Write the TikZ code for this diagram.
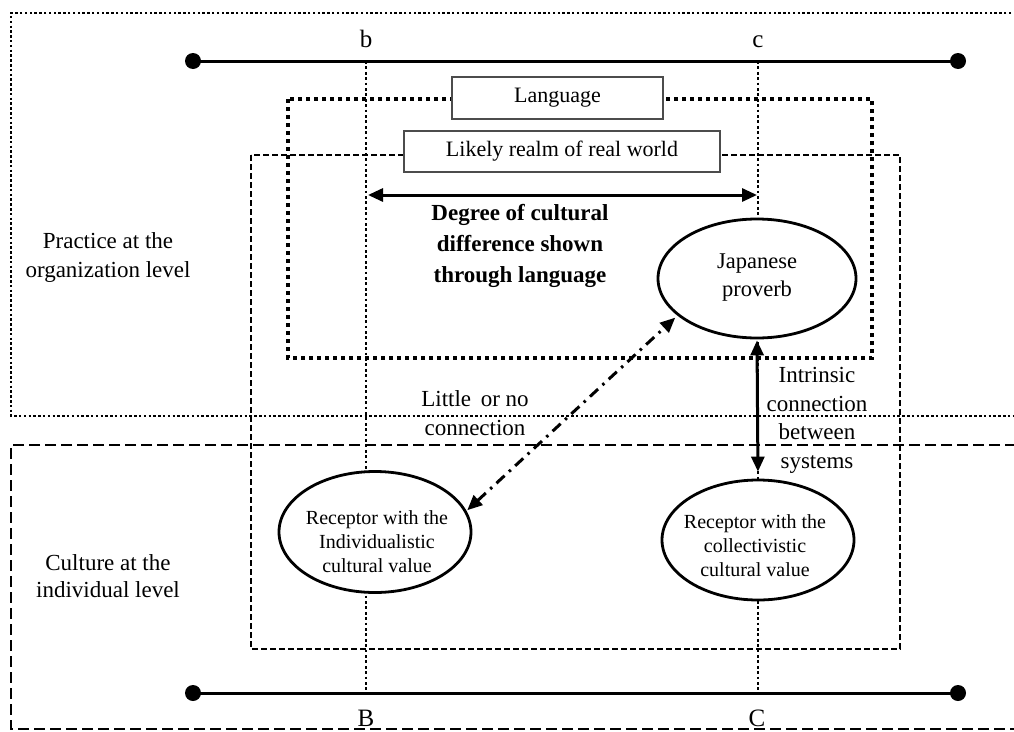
\documentclass[tikz,border=0pt]{standalone}
\usepackage{fontspec}
\setmainfont{Liberation Serif}
\usetikzlibrary{arrows.meta,shapes.geometric}
\begin{document}
\begin{tikzpicture}[x=1pt,y=-1pt,
  finedot/.style={line width=2.5pt, dash pattern=on 2.5pt off 2.3pt},
  heavydot/.style={line width=4pt, dash pattern=on 4pt off 4pt},
  guidedot/.style={line width=2.8pt, dash pattern=on 2.8pt off 2.6pt},
  longdash/.style={line width=2.2pt, dash pattern=on 11pt off 5pt},
  shortdash/.style={line width=2pt, dash pattern=on 6pt off 3pt},
  axisline/.style={line width=3pt},
  endpt/.style={circle, fill=black, inner sep=0pt, minimum size=16pt},
  oval/.style={ellipse, draw, line width=2.8pt, fill=white, inner sep=0pt},
  tagbox/.style={draw=black!70, line width=1.3pt, fill=white, inner sep=0pt,
    font=\fontsize{22}{26}\selectfont},
  tipped/.style={line width=3pt,
    {Triangle[length=15pt,width=13pt]}-{Triangle[length=15pt,width=13pt]}},
  txt/.style={align=center, inner sep=0pt, font=\fontsize{23}{28.5}\selectfont},
  smalltxt/.style={align=center, inner sep=0pt, font=\fontsize{20}{24}\selectfont},
  letter/.style={inner sep=0pt, anchor=base, font=\fontsize{25}{28}\selectfont}
]
\useasboundingbox (0,0) rectangle (1014,731);

% organisation-level band (dotted) and individual-level band (dashed)
\draw[finedot] (1016,13) -- (11,13) -- (11,416) -- (1016,416);
\draw[longdash] (1016,445) -- (11,445) -- (11,729) -- (1016,729);

% language frame and realm frame
\draw[heavydot] (288,99) rectangle (872,358);
\draw[shortdash] (251,155) rectangle (900,649);

% end points of the two scales
\coordinate (tl) at (193,61);
\coordinate (tr) at (958,61);
\coordinate (bl) at (193,693);
\coordinate (br) at (958,693);
\coordinate (bt) at (366,61);
\coordinate (bb) at (366,693);
\coordinate (ct) at (758,61);
\coordinate (cb) at (758,693);

% vertical guides b-B and c-C
\draw[guidedot] (bt) -- (bb);
\draw[guidedot] (ct) -- (cb);

% scales
\draw[axisline] (tl) -- (tr);
\draw[axisline] (bl) -- (br);
\node[endpt] (tld) at (tl) {};
\node[endpt] (trd) at (tr) {};
\node[endpt] (bld) at (bl) {};
\node[endpt] (brd) at (br) {};

\node[letter] (lb) at (366,47) {b};
\node[letter] (lc) at (758,47) {c};
\node[letter] (lB) at (366,726) {B};
\node[letter] (lC) at (757,726) {C};

% frame captions
\node[tagbox, minimum width=211pt, minimum height=42pt] (lang) at (557.5,98) {Language};
\node[tagbox, minimum width=316pt, minimum height=41pt] (realm) at (562,151.5) {Likely realm of real world};

% side captions
\node[txt] (org) at (108,257.5) {Practice at the\\organization level};
\node[txt, font=\fontsize{23}{27}\selectfont] (ind-level) at (108,576.5) {Culture at the\\individual level};

% degree of difference
\coordinate (db) at (368,195);
\coordinate (dc) at (757,195);
\draw[tipped] (db) -- (dc);
\node[txt, font=\bfseries\fontsize{23}{31}\selectfont] (deg) at (520,246)
  {Degree of cultural\\difference shown\\through language};

% ovals
\node[oval, minimum width=198pt, minimum height=119pt] (jp) at (757,278.5) {};
\node[oval, minimum width=192pt, minimum height=121pt] (ind) at (375,532) {};
\node[oval, minimum width=192pt, minimum height=120pt] (col) at (758,540) {};

\node[txt, font=\fontsize{22.5}{28.5}\selectfont] (jptxt) at (757,277.5) {Japanese\\proverb};
\node[smalltxt] (indtxt) at (377,542) {Receptor with the\\Individualistic\\cultural value};
\node[smalltxt] (coltxt) at (755,546) {Receptor with the\\collectivistic\\cultural value};

% connections
\draw[tipped, shorten >=7pt, shorten <=1pt] (jp.south) -- (col.north);
\draw[tipped, dash pattern=on 11pt off 6pt on 2.5pt off 6pt, shorten <=1pt, shorten >=3pt]
  (ind.13) -- (jp.205);

\node[txt] (weak) at (475,413) {Little\, or no\\connection};
\node[txt] (strong) at (817,420.5) {Intrinsic\\connection\\between\\systems};
\end{tikzpicture}
\end{document}
